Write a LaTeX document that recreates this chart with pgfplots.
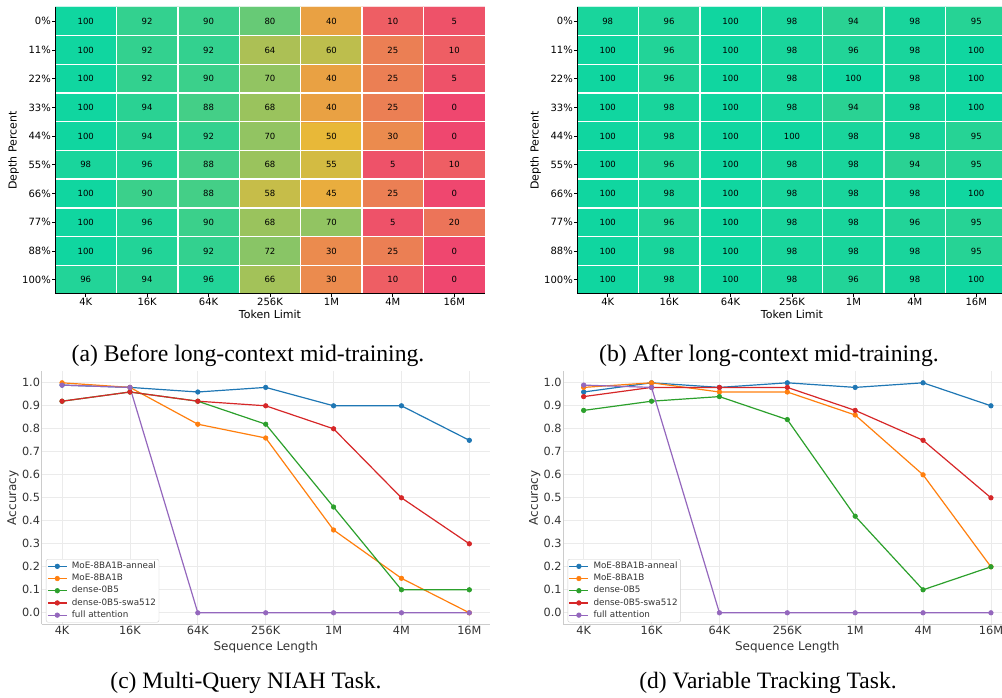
\documentclass[border=0pt]{standalone}
\usepackage{pgfplots}
\pgfplotsset{compat=1.18}
\usepackage{pgfplotstable}
\usepackage{fontspec}
\setmainfont{DejaVu Sans}
\newfontfamily\capfont{Liberation Serif}

\definecolor{c1}{HTML}{1F77B4}
\definecolor{c2}{HTML}{FF7F0E}
\definecolor{c3}{HTML}{2CA02C}
\definecolor{c4}{HTML}{D62728}
\definecolor{c5}{HTML}{9467BD}
\definecolor{gridc}{HTML}{EBEBEB}
\definecolor{spinec}{HTML}{CCCCCC}
\definecolor{tickc}{HTML}{333333}

\pgfplotstableread{
x y v
0 0 96
1 0 94
2 0 96
3 0 66
4 0 30
5 0 10
6 0 0
0 1 100
1 1 96
2 1 92
3 1 72
4 1 30
5 1 25
6 1 0
0 2 100
1 2 96
2 2 90
3 2 68
4 2 70
5 2 5
6 2 20
0 3 100
1 3 90
2 3 88
3 3 58
4 3 45
5 3 25
6 3 0
0 4 98
1 4 96
2 4 88
3 4 68
4 4 55
5 4 5
6 4 10
0 5 100
1 5 94
2 5 92
3 5 70
4 5 50
5 5 30
6 5 0
0 6 100
1 6 94
2 6 88
3 6 68
4 6 40
5 6 25
6 6 0
0 7 100
1 7 92
2 7 90
3 7 70
4 7 40
5 7 25
6 7 5
0 8 100
1 8 92
2 8 92
3 8 64
4 8 60
5 8 25
6 8 10
0 9 100
1 9 92
2 9 90
3 9 80
4 9 40
5 9 10
6 9 5
}\heatA

\pgfplotstableread{
x y v
0 0 100
1 0 98
2 0 100
3 0 98
4 0 96
5 0 98
6 0 100
0 1 100
1 1 98
2 1 100
3 1 98
4 1 98
5 1 98
6 1 95
0 2 100
1 2 96
2 2 100
3 2 98
4 2 98
5 2 96
6 2 95
0 3 100
1 3 98
2 3 100
3 3 98
4 3 98
5 3 98
6 3 100
0 4 100
1 4 96
2 4 100
3 4 98
4 4 98
5 4 94
6 4 95
0 5 100
1 5 98
2 5 100
3 5 100
4 5 98
5 5 98
6 5 95
0 6 100
1 6 98
2 6 100
3 6 98
4 6 94
5 6 98
6 6 100
0 7 100
1 7 96
2 7 100
3 7 98
4 7 100
5 7 98
6 7 100
0 8 100
1 8 96
2 8 100
3 8 98
4 8 96
5 8 98
6 8 100
0 9 98
1 9 96
2 9 100
3 9 98
4 9 94
5 9 98
6 9 95
}\heatB

\pgfplotsset{
  /pgf/number format/assume math mode=true,
  colormap={heat}{rgb255(0cm)=(239,71,111); rgb255(1cm)=(232,184,56); rgb255(2cm)=(16,214,160)},
  heatax/.style={
    scale only axis, width=430pt, height=287pt,
    xmin=-0.5, xmax=6.5, ymin=-0.5, ymax=9.5,
    axis x line*=bottom, axis y line*=left,
    axis line style={black, line width=1pt, -},
    xtick={0,...,6}, xticklabels={4K,16K,64K,256K,1M,4M,16M},
    ytick={0,...,9}, yticklabels={100\%,88\%,77\%,66\%,55\%,44\%,33\%,22\%,11\%,0\%},
    tick align=outside, major tick length=3pt, tick style={black, line width=0.8pt},
    minor xtick={0.5,1.5,2.5,3.5,4.5,5.5}, minor ytick={0.5,1.5,2.5,3.5,4.5,5.5,6.5,7.5,8.5},
    minor tick length=0pt,
    minor grid style={white, line width=1.4pt}, xminorgrids, yminorgrids,
    axis on top,
    colormap name=heat, point meta min=0, point meta max=100,
    ticklabel style={font=\fontsize{10}{12}\selectfont, text=black},
    xticklabel style={inner ysep=1pt}, yticklabel style={inner xsep=1pt},
    xlabel={Token Limit}, ylabel={Depth Percent},
    every axis x label/.style={at={(axis description cs:0.5,-0.0697)}, anchor=center, font=\fontsize{11}{13}\selectfont},
    every axis y label/.style={at={(axis description cs:-0.0965,0.5)}, rotate=90, anchor=center, font=\fontsize{11}{13}\selectfont},
  },
  heatplot/.style={matrix plot*, mesh/cols=7, point meta=explicit,
    nodes near coords, nodes near coords align=center,
    every node near coord/.append style={font=\fontsize{8.5}{10}\selectfont, text=black, anchor=center}},
  lineax/.style={
    scale only axis, width=448pt, height=253pt,
    xmin=-0.3, xmax=6.3, ymin=-0.05, ymax=1.05,
    axis x line*=bottom, axis y line*=left,
    axis line style={spinec, line width=1.2pt, -},
    xtick={0,...,6}, xticklabels={4K,16K,64K,256K,1M,4M,16M},
    ytick={0,0.1,0.2,0.3,0.4,0.5,0.6,0.7,0.8,0.9,1.0},
    yticklabel style={/pgf/number format/fixed, /pgf/number format/fixed zerofill, /pgf/number format/precision=1, inner xsep=1.5pt},
    major tick length=0pt,
    grid=major, major grid style={gridc, line width=0.8pt},
    ticklabel style={font=\fontsize{11.3}{13}\selectfont, text=tickc},
    xticklabel style={inner ysep=2pt},
    xlabel={Sequence Length}, ylabel={Accuracy},
    every axis x label/.style={at={(axis description cs:0.5,-0.0885)}, anchor=center, font=\fontsize{12}{14}\selectfont, text=tickc},
    every axis y label/.style={at={(axis description cs:-0.064,0.5)}, rotate=90, anchor=center, font=\fontsize{12}{14}\selectfont, text=tickc},
    legend style={at={(0.0096,0.258)}, anchor=north west, font=\fontsize{8.8}{10}\selectfont,
      draw=spinec, rounded corners=2pt, fill=white, inner sep=1pt, row sep=0pt, text=tickc,
      nodes={inner ysep=2.1pt, text height=6.2pt, text depth=1.8pt, inner xsep=2pt},
      /tikz/every odd column/.append style={column sep=2.5pt}},
    legend cell align=left,
    legend image code/.code={\draw[mark repeat=2, mark phase=2] plot coordinates {(0pt,0pt) (9.5pt,0pt) (19pt,0pt)};},
    every axis plot/.append style={line width=1.2pt, mark=*, mark size=2.3pt, mark options={solid, line width=0.6pt}},
  },
}

\begin{document}
\begin{tikzpicture}
\path[use as bounding box] (0pt,0pt) rectangle (1002pt,697pt);

% (a)
\begin{axis}[heatax, at={(55pt,403pt)}, anchor=south west]
\addplot[heatplot] table[x=x, y=y, meta=v] {\heatA};
\end{axis}

% (b)
\begin{axis}[heatax, at={(577pt,403pt)}, anchor=south west]
\addplot[heatplot] table[x=x, y=y, meta=v] {\heatB};
\end{axis}

% (c)
\begin{axis}[lineax, at={(41.7pt,72.7pt)}, anchor=south west]
\addplot[c1] coordinates {(0,0.99) (1,0.98) (2,0.96) (3,0.98) (4,0.90) (5,0.90) (6,0.75)};
\addlegendentry{MoE-8BA1B-anneal}
\addplot[c2] coordinates {(0,1.00) (1,0.98) (2,0.82) (3,0.76) (4,0.36) (5,0.15) (6,0.00)};
\addlegendentry{MoE-8BA1B}
\addplot[c3] coordinates {(0,0.92) (1,0.96) (2,0.92) (3,0.82) (4,0.46) (5,0.10) (6,0.10)};
\addlegendentry{dense-0B5}
\addplot[c4] coordinates {(0,0.92) (1,0.96) (2,0.92) (3,0.90) (4,0.80) (5,0.50) (6,0.30)};
\addlegendentry{dense-0B5-swa512}
\addplot[c5] coordinates {(0,0.99) (1,0.98) (2,0.00) (3,0.00) (4,0.00) (5,0.00) (6,0.00)};
\addlegendentry{full attention}
\end{axis}

% (d)
\begin{axis}[lineax, at={(563.3pt,72.7pt)}, anchor=south west]
\addplot[c1] coordinates {(0,0.96) (1,1.00) (2,0.98) (3,1.00) (4,0.98) (5,1.00) (6,0.90)};
\addlegendentry{MoE-8BA1B-anneal}
\addplot[c2] coordinates {(0,0.98) (1,1.00) (2,0.96) (3,0.96) (4,0.86) (5,0.60) (6,0.20)};
\addlegendentry{MoE-8BA1B}
\addplot[c3] coordinates {(0,0.88) (1,0.92) (2,0.94) (3,0.84) (4,0.42) (5,0.10) (6,0.20)};
\addlegendentry{dense-0B5}
\addplot[c4] coordinates {(0,0.94) (1,0.98) (2,0.98) (3,0.98) (4,0.88) (5,0.75) (6,0.50)};
\addlegendentry{dense-0B5-swa512}
\addplot[c5] coordinates {(0,0.99) (1,0.98) (2,0.00) (3,0.00) (4,0.00) (5,0.00) (6,0.00)};
\addlegendentry{full attention}
\end{axis}

\node[anchor=base, font=\capfont\fontsize{23.7}{28}\selectfont] at (248pt,335pt) {(a) Before long-context mid-training.};
\node[anchor=base, font=\capfont\fontsize{23.7}{28}\selectfont] at (769pt,335pt) {(b) After long-context mid-training.};
\node[anchor=base, font=\capfont\fontsize{23.5}{28}\selectfont] at (246pt,9pt) {(c) Multi-Query NIAH Task.};
\node[anchor=base, font=\capfont\fontsize{23.5}{28}\selectfont] at (768pt,9pt) {(d) Variable Tracking Task.};
\end{tikzpicture}
\end{document}
